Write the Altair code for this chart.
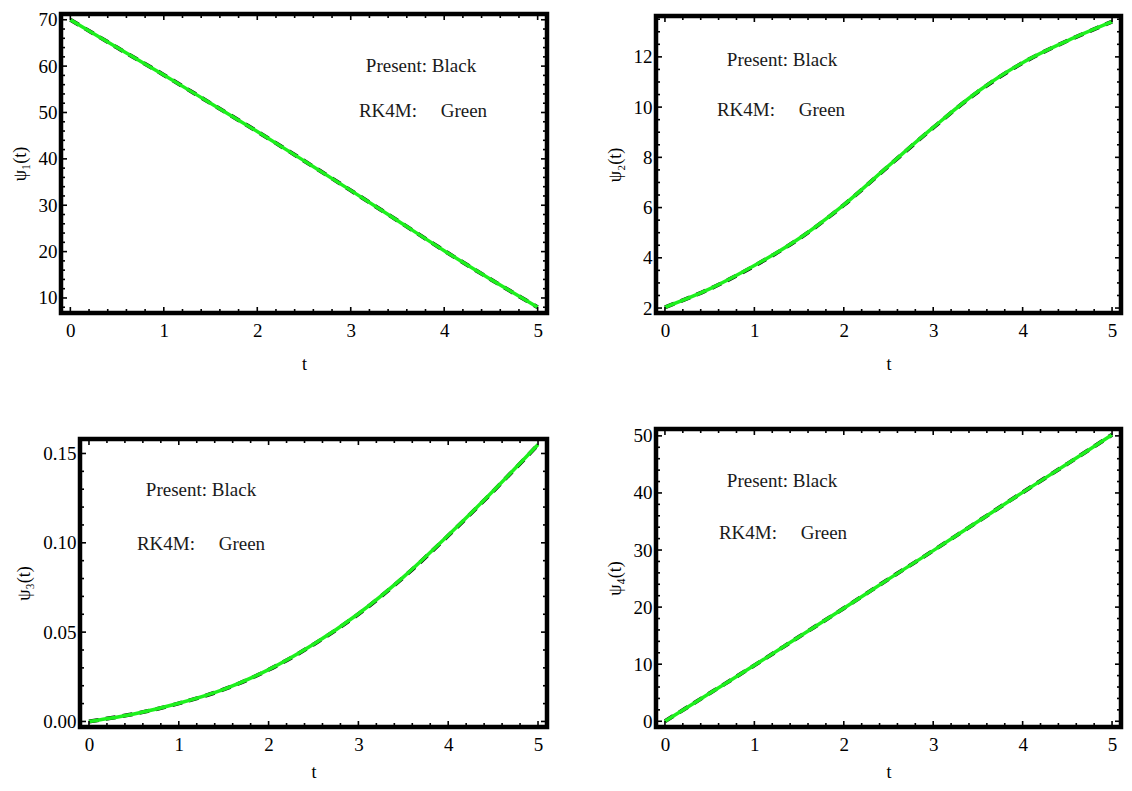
import altair as alt
import pandas as pd

# ---------------- data ----------------
t_vals = [0, 0.5, 1, 1.5, 2, 2.5, 3, 3.5, 4, 4.5, 5]

psi1_present = [70.0, 64.0, 58.1, 52.0, 45.9, 39.6, 33.2, 26.7, 20.2, 14.0, 8.0]
psi1_rk4m    = [70.0, 64.0, 58.1, 52.0, 45.9, 39.6, 33.2, 26.7, 20.2, 14.0, 8.0]

psi2_present = [2.03, 2.76, 3.68, 4.76, 6.10, 7.65, 9.18, 10.61, 11.76, 12.64, 13.40]
psi2_rk4m    = [2.03, 2.76, 3.69, 4.77, 6.11, 7.66, 9.19, 10.62, 11.77, 12.64, 13.40]

psi3_present = [0.0, 0.0042, 0.0101, 0.0179, 0.0289, 0.0431, 0.0601, 0.0806, 0.1040, 0.1288, 0.1549]
psi3_rk4m    = [0.0, 0.0042, 0.0102, 0.0180, 0.0290, 0.0432, 0.0603, 0.0808, 0.1042, 0.1290, 0.1550]

psi4_present = [0.0, 4.9, 9.8, 14.8, 19.8, 24.9, 29.9, 35.0, 40.1, 45.1, 50.2]
psi4_rk4m    = [0.0, 4.9, 9.8, 14.8, 19.8, 24.9, 29.9, 35.0, 40.1, 45.1, 50.2]

x_ticks = [0, 1, 2, 3, 4, 5]
x_minor = [0.2, 0.4, 0.6, 0.8, 1.2, 1.4, 1.6, 1.8, 2.2, 2.4, 2.6, 2.8,
           3.2, 3.4, 3.6, 3.8, 4.2, 4.4, 4.6, 4.8]

y1_ticks = [10, 20, 30, 40, 50, 60, 70]
y2_ticks = [2, 4, 6, 8, 10, 12]
y3_ticks = [0.0, 0.05, 0.10, 0.15]
y4_ticks = [0, 10, 20, 30, 40, 50]

y1_minor = [v for v in range(8, 71, 2) if v % 10 != 0]
y2_minor = [2 + 0.5 * k for k in range(0, 24) if k % 4 != 0]
y3_minor = [round(0.01 * k, 2) for k in range(0, 16) if k % 5 != 0]
y4_minor = [v for v in range(0, 51, 2) if v % 10 != 0]

labels_present = "Present: Black"
labels_rk4m = "RK4M:" + "\u00a0" * 5 + "Green"

FONT = "Liberation Serif"
GREEN = "#1ef01e"


def padded(lo, hi, frac=0.02):
    d = (hi - lo) * frac
    return [lo - d, hi + d]


def panel(present, rk4m, y_major, y_minor, y_title, fmt, w, h, ann, xtp, x0=0, y0=0):
    """w, h: cell size; the framed plot runs from (x0, y0) to (w, h) inside the cell."""
    df = pd.DataFrame({"t": t_vals, "present": present, "rk4m": rk4m})
    lo = min(present + rk4m)
    hi = max(present + rk4m)
    xs = alt.Scale(domain=[-0.1, 5.1], nice=False, zero=False, range=[x0, w])
    ys = alt.Scale(domain=padded(lo, hi), nice=False, zero=False, range=[h, y0])
    x_axis = alt.Axis(values=x_ticks, title="t", format="d", titlePadding=xtp,
                      titleX=(x0 + w) / 2, titleAlign="center")
    y_axis = alt.Axis(values=y_major, title=y_title, format=fmt, offset=-x0,
                      titleY=(y0 + h) / 2)
    xe = alt.X("t:Q", scale=xs, axis=x_axis)
    ye = alt.Y("v:Q", scale=ys, axis=y_axis)

    base = alt.Chart(df)
    pres = base.transform_calculate(v="datum.present").mark_line(
        color="black", strokeWidth=4, strokeDash=[10, 7], interpolate="catmull-rom"
    ).encode(x=xe, y=ye)
    rk = base.transform_calculate(v="datum.rk4m").mark_line(
        color=GREEN, strokeWidth=3.5, interpolate="catmull-rom"
    ).encode(x=xe, y=ye)

    layers = [pres, rk]

    def xt(vals, L):
        d = pd.DataFrame({"t": vals})
        c = alt.Chart(d).mark_rule(color="black", strokeWidth=1.6)
        return [
            c.encode(x=xe, y=alt.value(h), y2=alt.value(h - L)),
            c.encode(x=xe, y=alt.value(y0), y2=alt.value(y0 + L)),
        ]

    def yt(vals, L):
        d = pd.DataFrame({"v": vals})
        c = alt.Chart(d).mark_rule(color="black", strokeWidth=1.6)
        return [
            c.encode(y=ye, x=alt.value(x0), x2=alt.value(x0 + L)),
            c.encode(y=ye, x=alt.value(w), x2=alt.value(w - L)),
        ]

    layers += xt(x_ticks, 6) + xt(x_minor, 4) + yt(y_major, 6) + yt(y_minor, 4)

    frame = alt.Chart(pd.DataFrame({"f": [0]})).mark_rect(
        filled=False, stroke="black", strokeWidth=4.5
    ).encode(x=alt.value(x0), x2=alt.value(w), y=alt.value(y0), y2=alt.value(h))
    layers.append(frame)

    txt = pd.DataFrame({"label": [labels_present, labels_rk4m]})
    for i, (ax, ay) in enumerate(ann):
        layers.append(
            alt.Chart(txt.iloc[[i]]).mark_text(
                font=FONT, fontSize=19, color="#1a1a1a", align="center", baseline="middle"
            ).encode(text="label:N", x=alt.value(x0 + ax), y=alt.value(y0 + ay))
        )

    return alt.layer(*layers).properties(width=w, height=h)


p1 = panel(psi1_present, psi1_rk4m, y1_ticks, y1_minor, "ψ₁(t)", "d", 486, 299,
           [(360, 52), (362, 97)], 15)
p2 = panel(psi2_present, psi2_rk4m, y2_ticks, y2_minor, "ψ₂(t)", "d", 465, 299,
           [(126, 44), (125, 94)], 15, y0=2)
p3 = panel(psi3_present, psi3_rk4m, y3_ticks, y3_minor, "ψ₃(t)", ".2f", 486, 298,
           [(121, 51), (121, 105)], 9, x0=19, y0=10)
p4 = panel(psi4_present, psi4_rk4m, y4_ticks, y4_minor, "ψ₄(t)", "d", 465, 298,
           [(126, 52), (127, 104)], 9)

chart = alt.concat(
    p1, p2, p3, p4, columns=2, bounds="flush",
    spacing={"row": 116, "column": 109},
).properties(
    padding={"left": 3, "top": 2, "right": 0, "bottom": 0}
).configure_view(
    strokeWidth=0
).configure_axis(
    domain=False, ticks=False, grid=False,
    labelFont=FONT, labelFontSize=19, labelColor="black",
    labelFlush=False, labelOverlap=False,
    titleFont=FONT, titleFontSize=18, titleFontWeight="normal", titleColor="black",
).configure_axisX(labelPadding=8).configure_axisY(labelPadding=4, titlePadding=9)

chart.save("out.html", embed_options={"renderer": "svg", "actions": False})
